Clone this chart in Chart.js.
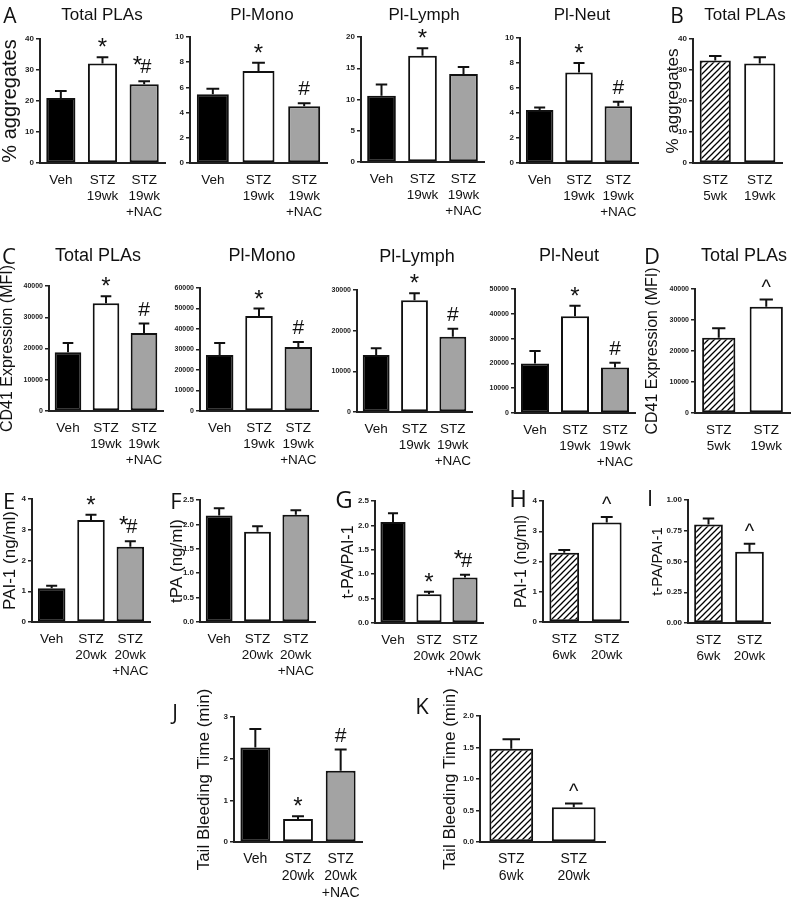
<!DOCTYPE html>
<html>
<head>
<meta charset="utf-8">
<script src="https://cdn.jsdelivr.net/npm/chart.js@4.4.0/dist/chart.umd.min.js"></script>
<style>
body { margin:0; background:#fff; width:796px; height:898px; position:relative; overflow:hidden; font-family:'Liberation Sans', Arial, sans-serif; }
.t { position:absolute; color:#111; transform:translate(-50%,-50%); white-space:nowrap; }
.l { position:absolute; font-family:'Open Sans', sans-serif; color:#111; transform:translate(-50%,-50%); }
canvas { position:absolute; }
</style>
</head>
<body>
<script>
var F = "'Liberation Sans', Arial, sans-serif";

// group labels
var lab19 = ["Veh", ["STZ","19wk"], ["STZ","19wk","+NAC"]];
var lab19b = [["STZ","5wk"], ["STZ","19wk"]];
var lab20 = ["Veh", ["STZ","20wk"], ["STZ","20wk","+NAC"]];
var lab20b = [["STZ","6wk"], ["STZ","20wk"]];

// A: % aggregates
var aTotMean = [21, 32.1, 25.4], aTotSem = [2.2, 2, 1], aTotMarks = ["", "*", "*#"];
var aMonoMean = [5.45, 7.3, 4.5], aMonoSem = [0.45, 0.65, 0.25], aMonoMarks = ["", "*", "#"];
var aLymMean = [10.6, 17.0, 14.1], aLymSem = [1.8, 1.2, 1.1], aLymMarks = ["", "*", ""];
var aNeuMean = [4.25, 7.25, 4.55], aNeuSem = [0.2, 0.75, 0.35], aNeuMarks = ["", "*", "#"];
// B
var bMean = [33.1, 32.1], bSem = [1.4, 2], bMarks = ["", ""];
// C: CD41 MFI
var cTotMean = [18800, 34500, 25000], cTotSem = [3000, 2200, 3000], cTotMarks = ["", "*", "#"];
var cMonoMean = [27300, 46300, 31200], cMonoSem = [5900, 3700, 2400], cMonoMarks = ["", "*", "#"];
var cLymMean = [14000, 27500, 18500], cLymSem = [1700, 1700, 2000], cLymMarks = ["", "*", "#"];
var cNeuMean = [20000, 39000, 18300], cNeuSem = [5000, 4200, 2000], cNeuMarks = ["", "*", "#"];
// D
var dMean = [24300, 34300], dSem = [3000, 2300], dMarks = ["", "^"];
// E-I
var eMean = [1.1, 3.32, 2.45], eSem = [0.08, 0.17, 0.18], eMarks = ["", "*", "*#"];
var fMean = [2.18, 1.85, 2.2], fSem = [0.15, 0.11, 0.09], fMarks = ["", "", ""];
var gMean = [2.07, 0.59, 0.93], gSem = [0.18, 0.05, 0.06], gMarks = ["", "*", "*#"];
var hMean = [2.29, 3.29], hSem = [0.09, 0.18], hMarks = ["", "^"];
var iMean = [0.80, 0.58], iSem = [0.05, 0.065], iMarks = ["", "^"];
// J, K: tail bleeding
var jMean = [2.27, 0.55, 1.71], jSem = [0.44, 0.07, 0.51], jMarks = ["", "*", "#"];
var kMean = [1.48, 0.55], kSem = [0.15, 0.06], kMarks = ["", "^"];

var titles = [["Total PLAs",102,15,17],["Pl-Mono",262,15,17],["Pl-Lymph",424,15,17],["Pl-Neut",582,15,17],["Total PLAs",745,15,17],
  ["Total PLAs",98,255,18],["Pl-Mono",262,255,18],["Pl-Lymph",417,256,18],["Pl-Neut",569,255,18],["Total PLAs",744,255,18]];
var letters = [["A",10,15,21],["B",677,15,21],["C",9,255,22],["D",652,255,22],["E",9,500,22],["F",176,500,22],
  ["G",344,498,24],["H",518,497,24],["I",650,497,22],["J",175,712,21],["K",422,705,22]];

function hatch() {
  var c = document.createElement('canvas');
  c.width = 6; c.height = 6;
  var g = c.getContext('2d');
  g.fillStyle = '#fff'; g.fillRect(0, 0, 6, 6);
  g.strokeStyle = '#000'; g.lineWidth = 1.3;
  g.beginPath();
  g.moveTo(-1, 7); g.lineTo(7, -1);
  g.moveTo(-1, 1); g.lineTo(1, -1);
  g.moveTo(5, 7); g.lineTo(7, 5);
  g.stroke();
  return g.createPattern(c, 'repeat');
}

var errs = {
  id: 'errs',
  afterDatasetsDraw: function(chart, args, o) {
    if (!o || !o.sem) return;
    var ctx = chart.ctx, ys = chart.scales.y, d = chart.data.datasets[0].data;
    ctx.save();
    ctx.strokeStyle = '#111'; ctx.fillStyle = '#111'; ctx.lineWidth = 2;
    ctx.textBaseline = 'alphabetic';
    chart.getDatasetMeta(0).data.forEach(function(bar, i) {
      var top = ys.getPixelForValue(d[i] + o.sem[i]);
      var cap = bar.width * 0.2;
      ctx.beginPath();
      ctx.moveTo(bar.x, bar.y); ctx.lineTo(bar.x, top);
      ctx.moveTo(bar.x - cap, top); ctx.lineTo(bar.x + cap, top);
      ctx.stroke();
      var m = o.marks[i];
      if (m == '*') {
        ctx.font = '24px ' + F; ctx.textAlign = 'center';
        ctx.fillText('*', bar.x, top - 2);
      } else if (m == '#') {
        ctx.font = '21px ' + F; ctx.textAlign = 'center';
        ctx.fillText('#', bar.x, top - 8);
      } else if (m == '^') {
        ctx.font = '20px ' + F; ctx.textAlign = 'center';
        ctx.fillText('^', bar.x, top - 6);
      } else if (m == '*#') {
        ctx.font = '20px ' + F; ctx.textAlign = 'left';
        ctx.fillText('#', bar.x - 4, top - 8);
        ctx.font = '24px ' + F; ctx.textAlign = 'right';
        ctx.fillText('*', bar.x - 2, top - 8);
      }
    });
    ctx.restore();
  }
};
Chart.register(errs);

var pat = hatch();
var fill3 = ['#000', '#fff', '#a3a3a3'];
var fill2 = [pat, '#fff'];

var panels = [
  {labels: lab19, mean: aTotMean, sem: aTotSem, marks: aTotMarks, max: 40, step: 10, dec: 0, rect: [40,39,165,163], yTitle: '% aggregates', tx: 10, ts: 20},
  {labels: lab19, mean: aMonoMean, sem: aMonoSem, marks: aMonoMarks, max: 10, step: 2, dec: 0, rect: [190,37,327,163]},
  {labels: lab19, mean: aLymMean, sem: aLymSem, marks: aLymMarks, max: 20, step: 5, dec: 0, rect: [361,37,484,162]},
  {labels: lab19, mean: aNeuMean, sem: aNeuSem, marks: aNeuMarks, max: 10, step: 2, dec: 0, rect: [520,38,638,163]},
  {labels: lab19b, mean: bMean, sem: bSem, marks: bMarks, max: 40, step: 10, dec: 0, rect: [693,39,782,163], yTitle: '% aggregates', tx: 673, ts: 17},
  {labels: lab19, mean: cTotMean, sem: cTotSem, marks: cTotMarks, max: 40000, step: 10000, dec: 0, rect: [49,286,163,411], yTitle: 'CD41 Expression (MFI)', tx: 8, ts: 16, tick: 7},
  {labels: lab19, mean: cMonoMean, sem: cMonoSem, marks: cMonoMarks, max: 60000, step: 10000, dec: 0, rect: [200,288,318,411], tick: 7},
  {labels: lab19, mean: cLymMean, sem: cLymSem, marks: cLymMarks, max: 30000, step: 10000, dec: 0, rect: [357,290,472,412], tick: 7},
  {labels: lab19, mean: cNeuMean, sem: cNeuSem, marks: cNeuMarks, max: 50000, step: 10000, dec: 0, rect: [515,289,635,413], tick: 7},
  {labels: lab19b, mean: dMean, sem: dSem, marks: dMarks, max: 40000, step: 10000, dec: 0, rect: [695,289,790,413], yTitle: 'CD41 Expression (MFI)', tx: 653, ts: 16, tick: 7},
  {labels: lab20, mean: eMean, sem: eSem, marks: eMarks, max: 4, step: 1, dec: 0, rect: [32,499,150,622], yTitle: 'PAI-1 (ng/ml)', tx: 10, ts: 17},
  {labels: lab20, mean: fMean, sem: fSem, marks: fMarks, max: 2.5, step: 0.5, dec: 1, rect: [200,500,315,622], yTitle: 'tPA (ng/ml)', tx: 177, ts: 17},
  {labels: lab20, mean: gMean, sem: gSem, marks: gMarks, max: 2.5, step: 0.5, dec: 1, rect: [375,501,483,623], yTitle: 't-PA/PAI-1', tx: 349, ts: 16},
  {labels: lab20b, mean: hMean, sem: hSem, marks: hMarks, max: 4, step: 1, dec: 0, rect: [543,501,628,622], yTitle: 'PAI-1 (ng/ml)', tx: 522, ts: 16},
  {labels: lab20b, mean: iMean, sem: iSem, marks: iMarks, max: 1, step: 0.25, dec: 2, rect: [688,500,770,623], yTitle: 't-PA/PAI-1', tx: 657, ts: 15},
  {labels: lab20, mean: jMean, sem: jSem, marks: jMarks, max: 3, step: 1, dec: 0, rect: [234,717,362,842], yTitle: 'Tail Bleeding Time (min)', tx: 204, ts: 17, xs: 14},
  {labels: lab20b, mean: kMean, sem: kSem, marks: kMarks, max: 2, step: 0.5, dec: 1, rect: [480,716,605,842], yTitle: 'Tail Bleeding Time (min)', tx: 450, ts: 17, xs: 14}
];

function draw(p) {
  var pt = 48, pr = 4, xh = 72;
  var cl = p.yTitle ? Math.round(p.tx - p.ts / 2) : p.rect[0] - 40;
  var yw = p.rect[0] - cl;
  var cv = document.createElement('canvas');
  cv.width = p.rect[2] - cl + pr;
  cv.height = p.rect[3] - p.rect[1] + pt + xh;
  cv.style.left = cl + 'px';
  cv.style.top = (p.rect[1] - pt) + 'px';
  document.body.appendChild(cv);
  new Chart(cv, {
    type: 'bar',
    data: {
      labels: p.labels,
      datasets: [{
        data: p.mean,
        backgroundColor: p.mean.length == 3 ? fill3 : fill2,
        borderColor: '#111',
        borderWidth: 2,
        borderSkipped: false,
        barPercentage: 0.7,
        categoryPercentage: 1
      }]
    },
    options: {
      responsive: false,
      animation: false,
      layout: {padding: {top: pt, right: pr, left: 0, bottom: 0}},
      plugins: {
        legend: {display: false},
        tooltip: {enabled: false},
        errs: {sem: p.sem, marks: p.marks}
      },
      scales: {
        x: {
          grid: {display: false},
          border: {color: '#222', width: 2},
          ticks: {color: '#111', font: {family: F, size: p.xs || 13.5, lineHeight: 1.2}, padding: 1, maxRotation: 0, autoSkip: false},
          afterFit: function(s) { s.height = xh; }
        },
        y: {
          min: 0, max: p.max,
          grid: {drawOnChartArea: false, color: '#222', tickLength: 4, lineWidth: 1.5},
          border: {color: '#222', width: 2},
          ticks: {
            stepSize: p.step, color: '#222', padding: 2,
            font: {family: "'Liberation Sans Narrow', " + F, size: p.tick || 8, weight: 'bold'},
            callback: function(v) { return Number(v).toFixed(p.dec); }
          },
          title: {display: !!p.yTitle, text: p.yTitle || '', color: '#111', padding: 0, font: {family: F, size: p.ts || 16, lineHeight: 1}},
          afterFit: function(s) { s.width = yw; }
        }
      }
    }
  });
}

panels.forEach(draw);

titles.forEach(function(t) {
  var d = document.createElement('div');
  d.className = 't';
  d.textContent = t[0];
  d.style.left = t[1] + 'px'; d.style.top = t[2] + 'px'; d.style.fontSize = t[3] + 'px';
  document.body.appendChild(d);
});
letters.forEach(function(t) {
  var d = document.createElement('div');
  d.className = 'l';
  d.textContent = t[0];
  d.style.left = t[1] + 'px'; d.style.top = t[2] + 'px'; d.style.fontSize = t[3] + 'px';
  document.body.appendChild(d);
});
</script>
</body>
</html>
